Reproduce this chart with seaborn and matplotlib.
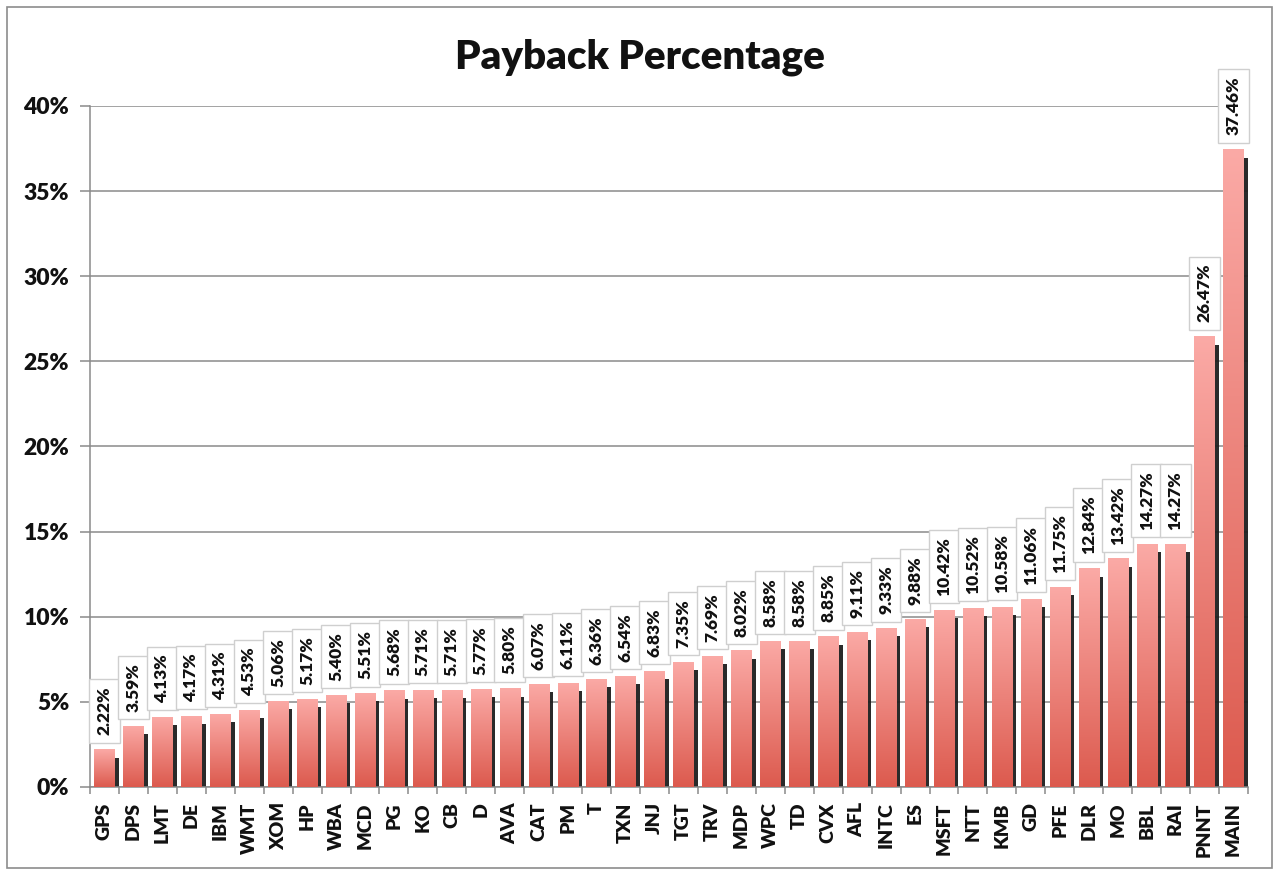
import matplotlib
matplotlib.use("Agg")
import matplotlib.pyplot as plt
import matplotlib.patheffects as pe
from matplotlib.colors import LinearSegmentedColormap
from matplotlib.patches import Rectangle
from matplotlib.ticker import FixedLocator, PercentFormatter
import numpy as np
import seaborn as sns

tickers = ["GPS", "DPS", "LMT", "DE", "IBM", "WMT", "XOM", "HP", "WBA", "MCD",
           "PG", "KO", "CB", "D", "AVA", "CAT", "PM", "T", "TXN", "JNJ",
           "TGT", "TRV", "MDP", "WPC", "TD", "CVX", "AFL", "INTC", "ES", "MSFT",
           "NTT", "KMB", "GD", "PFE", "DLR", "MO", "BBL", "RAI", "PNNT", "MAIN"]
payback = [2.22, 3.59, 4.13, 4.17, 4.31, 4.53, 5.06, 5.17, 5.40, 5.51,
           5.68, 5.71, 5.71, 5.77, 5.80, 6.07, 6.11, 6.36, 6.54, 6.83,
           7.35, 7.69, 8.02, 8.58, 8.58, 8.85, 9.11, 9.33, 9.88, 10.42,
           10.52, 10.58, 11.06, 11.75, 12.84, 13.42, 14.27, 14.27, 26.47, 37.46]

sns.set_theme(style="white")
plt.rcParams["font.family"] = ["Lato", "DejaVu Sans"]

fig = plt.figure(figsize=(12.8, 8.75), dpi=100)
ax = fig.add_axes([0.0703, 0.1006, 0.975 - 0.0703, 0.8789 - 0.1006])

# outer chart border
fig.patches.append(Rectangle((7 / 1280, 7 / 875), 1265 / 1280, 861 / 875,
                             transform=fig.transFigure, fill=False,
                             edgecolor="#8c8c8c", linewidth=1.2))

sns.barplot(x=tickers, y=payback, color="#dc5a4e", width=0.7, saturation=1,
            ax=ax, zorder=2)

grad_cmap = LinearSegmentedColormap.from_list("pink_red", ["#dc5a4e", "#fbaaa6"])
grad = np.linspace(0, 1, 256).reshape(-1, 1)

for patch, val in zip(ax.patches, payback):
    patch.set_edgecolor("none")
    patch.set_path_effects([
        pe.SimplePatchShadow(offset=(3, -6), shadow_rgbFace="#1e1e1e", alpha=0.95),
        pe.Normal(),
    ])
    x0 = patch.get_x()
    w = patch.get_width()
    im = ax.imshow(grad, extent=[x0, x0 + w, 0, patch.get_height()],
                   origin="lower", aspect="auto", cmap=grad_cmap, zorder=3)
    im.set_clip_path(patch)
    ax.annotate(f"{val:.2f}%", (x0 + w / 2, patch.get_height()),
                xytext=(0, 10), textcoords="offset points",
                rotation=90, ha="center", va="bottom",
                fontsize=12.5, fontweight="heavy", color="#111111", zorder=5,
                bbox=dict(boxstyle="square,pad=0.42", facecolor="white",
                          edgecolor="#cfcfcf", linewidth=1))

ax.set_xlim(-0.5, len(tickers) - 0.5)
ax.set_ylim(0, 40)
ax.yaxis.set_major_locator(FixedLocator(np.arange(0, 41, 5)))
ax.yaxis.set_major_formatter(PercentFormatter(decimals=0))
ax.grid(axis="y", color="#8a8a8a", linewidth=1.1, zorder=0)
ax.set_axisbelow(True)

for side in ["top", "right"]:
    ax.spines[side].set_visible(False)
for side in ["left", "bottom"]:
    ax.spines[side].set_color("#8a8a8a")
    ax.spines[side].set_linewidth(1.1)

ax.tick_params(axis="y", which="major", left=True, length=7, width=1.1,
               color="#8a8a8a", labelsize=16.5, pad=8)
ax.tick_params(axis="x", which="major", bottom=False, labelsize=14,
               labelrotation=90, pad=5)
ax.xaxis.set_minor_locator(FixedLocator(np.arange(-0.5, len(tickers), 1)))
ax.tick_params(axis="x", which="minor", bottom=True, length=5, width=1.1,
               color="#8a8a8a")
for lbl in ax.get_xticklabels() + ax.get_yticklabels():
    lbl.set_fontweight("heavy")
    lbl.set_color("#111111")
ax.set_xlabel("")
ax.set_ylabel("")

fig.text(0.5, 1 - 57 / 875, "Payback Percentage", ha="center", va="center",
         fontsize=29, fontweight="heavy", color="#111111")

fig.savefig("out.png", dpi=100)
